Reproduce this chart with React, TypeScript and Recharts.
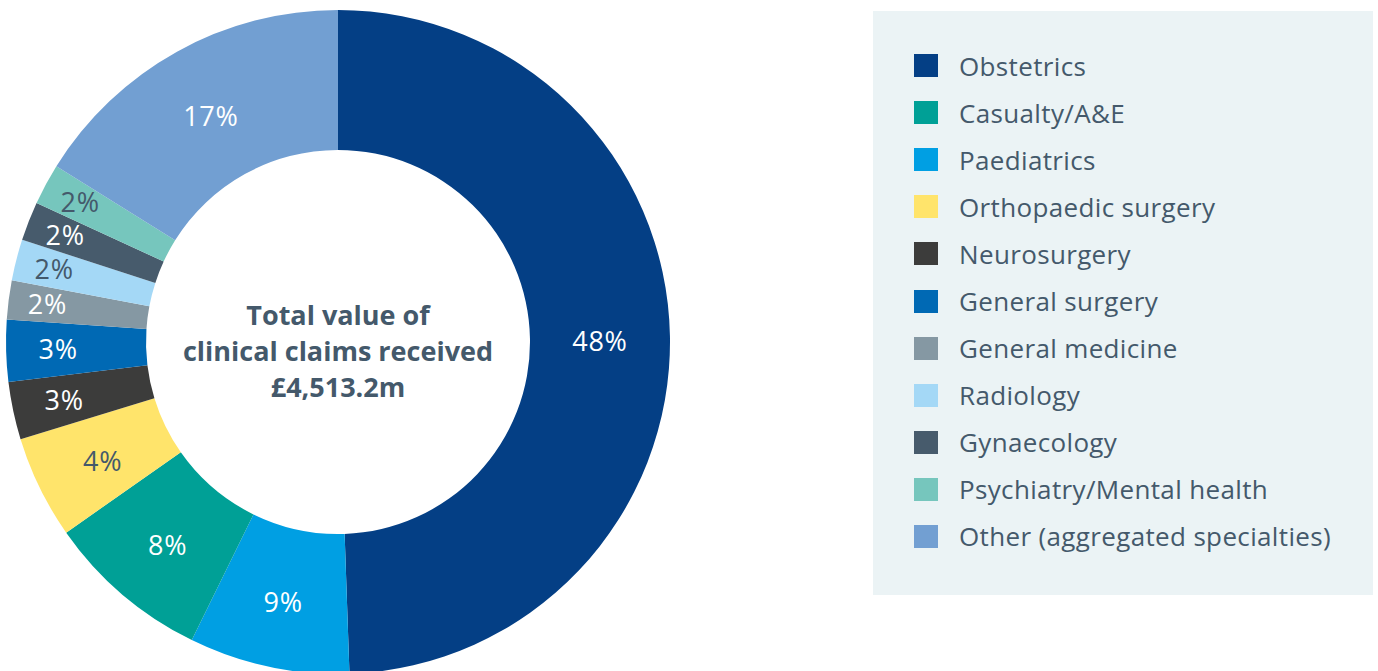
import React from 'react';
import { PieChart, Pie, Cell, Label } from 'recharts';

const categories = [
  'Obstetrics',
  'Paediatrics',
  'Casualty/A&E',
  'Orthopaedic surgery',
  'Neurosurgery',
  'General surgery',
  'General medicine',
  'Radiology',
  'Gynaecology',
  'Psychiatry/Mental health',
  'Other (aggregated specialties)',
];
const values = [49.4, 7.8, 8.0, 5.0, 2.8, 3.0, 1.9, 2.0, 1.9, 2.0, 16.1];
const valueLabels = ['48%', '9%', '8%', '4%', '3%', '3%', '2%', '2%', '2%', '2%', '17%'];
const colors = [
  '#043f85',
  '#009fe3',
  '#00a096',
  '#ffe46b',
  '#3c3c3b',
  '#0069b4',
  '#8598a3',
  '#a4d8f6',
  '#475b6c',
  '#76c6bd',
  '#729fd2',
];
const lightSlices = ['Orthopaedic surgery', 'Radiology', 'Psychiatry/Mental health'];
const legendOrder = [
  'Obstetrics',
  'Casualty/A&E',
  'Paediatrics',
  'Orthopaedic surgery',
  'Neurosurgery',
  'General surgery',
  'General medicine',
  'Radiology',
  'Gynaecology',
  'Psychiatry/Mental health',
  'Other (aggregated specialties)',
];
const centerLines = ['Total value of', 'clinical claims received', '£4,513.2m'];

const data = categories.map((name, i) => ({ name, value: values[i], label: valueLabels[i], color: colors[i] }));

const TEXT = '#44596b';
const FONT = '"Open Sans", "Noto Sans", sans-serif';
const RAD = Math.PI / 180;

const renderLabel = (p: any) => {
  const { cx, cy, midAngle, value, index } = p;
  const small = value < 3.5;
  const r = value < 2.5 ? 293 : small ? 280 : 262;
  const x = cx + r * Math.cos(-midAngle * RAD);
  const y = cy + r * Math.sin(-midAngle * RAD) + (small ? -1 : 3);
  const d = data[index];
  const fill = lightSlices.includes(d.name) ? TEXT : '#ffffff';
  return (
    <text
      x={x}
      y={y}
      fill={fill}
      textAnchor="middle"
      dominantBaseline="central"
      fontSize={27}
      letterSpacing={0.8}
      fontFamily={FONT}
    >
      {d.label}
    </text>
  );
};

const CenterText = (props: any) => {
  const vb = props.viewBox || {};
  const cx = vb.cx ?? 338;
  const cy = vb.cy ?? 342;
  return (
    <g>
      {centerLines.map((t, i) => (
        <text
          key={i}
          x={cx}
          y={cy + (i - 1) * 36 + 8}
          textAnchor="middle"
          dominantBaseline="central"
          fontSize={27}
          fontWeight={700}
          fill={TEXT}
          fontFamily={FONT}
        >
          {t}
        </text>
      ))}
    </g>
  );
};

export default function App() {
  return (
    <div style={{ position: 'absolute', left: 0, top: 0, width: 1378, height: 671, background: '#ffffff', overflow: 'hidden' }}>
      <PieChart width={1378} height={671} margin={{ top: 0, right: 0, bottom: 0, left: 0 }}>
        <Pie
          data={data}
          dataKey="value"
          nameKey="name"
          cx={338}
          cy={342}
          innerRadius={192}
          outerRadius={332}
          startAngle={90}
          endAngle={-270}
          stroke="none"
          label={renderLabel}
          labelLine={false}
          isAnimationActive={false}
        >
          {data.map((d) => (
            <Cell key={d.name} fill={d.color} />
          ))}
          <Label position="center" content={<CenterText />} />
        </Pie>
      </PieChart>
      <div
        style={{
          position: 'absolute',
          left: 873,
          top: 11,
          width: 500,
          height: 584,
          background: '#ebf3f5',
          boxSizing: 'border-box',
          paddingTop: 31,
          fontFamily: FONT,
        }}
      >
        {legendOrder.map((name) => {
          const d = data.find((x) => x.name === name)!;
          return (
            <div key={name} style={{ display: 'flex', alignItems: 'center', height: 47.1 }}>
              <div style={{ width: 24, height: 23, background: d.color, marginLeft: 41, marginRight: 21, flexShrink: 0 }} />
              <span style={{ fontSize: 26, letterSpacing: 0.35, color: TEXT, whiteSpace: 'nowrap' }}>{name}</span>
            </div>
          );
        })}
      </div>
    </div>
  );
}
